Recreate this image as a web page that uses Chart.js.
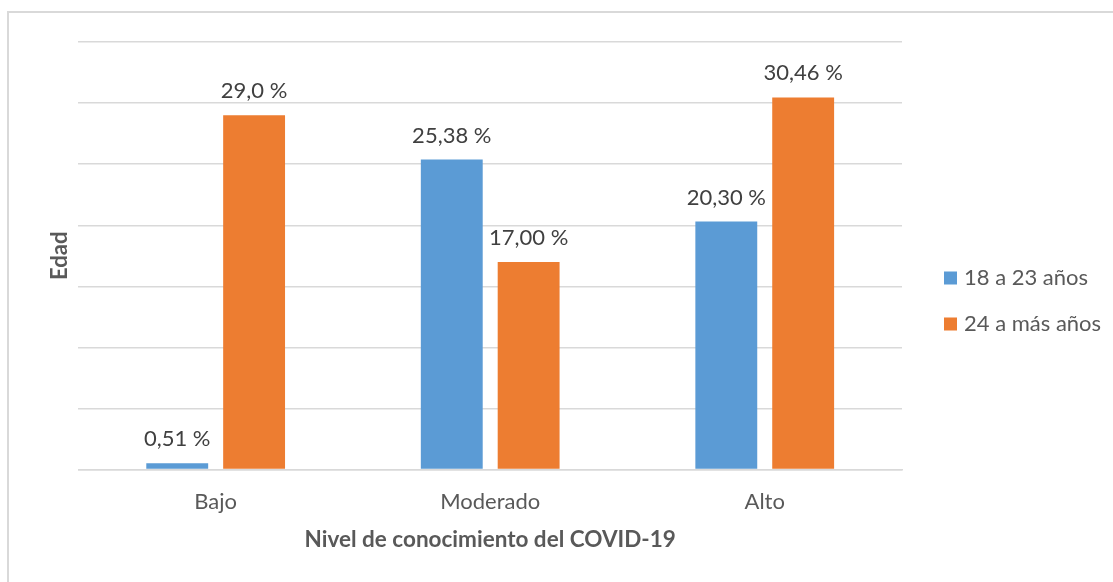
<!DOCTYPE html>
<html>
<head>
<meta charset="utf-8">
<title>Nivel de conocimiento del COVID-19</title>
<script src="https://cdn.jsdelivr.net/npm/chart.js@4"></script>
<style>
  html, body { margin: 0; padding: 0; overflow: hidden; background: #fff; }
  #frame { position: absolute; left: 7px; top: 11px; width: 1300px; height: 800px;
           border: 2px solid #d9d9d9; }
  #wrap { position: absolute; left: 0; top: 0; width: 1113px; height: 582px; }
</style>
</head>
<body>
<div id="frame"></div>
<div id="wrap"><canvas id="bar-chart" width="1113" height="582"></canvas></div>
<script>
// data
var categories = ['Bajo', 'Moderado', 'Alto'];
var seriesNames = ['18 a 23 años', '24 a más años'];
var joven = [0.51, 25.38, 20.30];
var mayor = [29.0, 17.00, 30.46];
var jovenText = ['0,51 %', '25,38 %', '20,30 %'];
var mayorText = ['29,0 %', '17,00 %', '30,46 %'];
var yTicks = [0, 5, 10, 15, 20, 25, 30, 35];

var gris = '#595959';
Chart.defaults.font.family = 'Lato';
Chart.defaults.font.size = 22;
Chart.defaults.color = gris;

// labels above the bars
var valueLabels = {
  id: 'valueLabels',
  afterDatasetsDraw: function (chart) {
    var ctx = chart.ctx;
    ctx.save();
    ctx.font = '22px Lato';
    ctx.fillStyle = '#404040';
    ctx.textAlign = 'center';
    ctx.textBaseline = 'alphabetic';
    chart.data.datasets.forEach(function (ds, i) {
      chart.getDatasetMeta(i).data.forEach(function (bar, j) {
        ctx.fillText(ds.valueText[j], bar.x, bar.y - 17);
      });
    });
    ctx.restore();
  }
};

// legend on the right, excel style
var sideLegend = {
  id: 'sideLegend',
  afterDraw: function (chart) {
    var ctx = chart.ctx;
    var x = chart.chartArea.right + 42;
    var y = 278;
    ctx.save();
    ctx.font = '22px Lato';
    ctx.textBaseline = 'middle';
    ctx.textAlign = 'left';
    chart.data.datasets.forEach(function (ds, i) {
      var cy = y + i * 46;
      ctx.fillStyle = ds.backgroundColor;
      ctx.fillRect(x, cy - 6.5, 13, 13);
      ctx.fillStyle = gris;
      ctx.fillText(ds.label, x + 20, cy);
    });
    ctx.restore();
  }
};

new Chart(document.getElementById('bar-chart'), {
  type: 'bar',
  data: {
    labels: categories,
    datasets: [{
      label: seriesNames[0],
      data: joven,
      valueText: jovenText,
      backgroundColor: '#5b9bd5',
      barPercentage: 0.805,
      categoryPercentage: 0.56
    }, {
      label: seriesNames[1],
      data: mayor,
      valueText: mayorText,
      backgroundColor: '#ed7d31',
      barPercentage: 0.805,
      categoryPercentage: 0.56
    }]
  },
  options: {
    responsive: false,
    animation: false,
    layout: { padding: { left: 47, top: 42, right: 211, bottom: 25 } },
    plugins: {
      tooltip: { enabled: false },
      legend: { display: false }
    },
    scales: {
      x: {
        grid: { display: false, drawTicks: false },
        border: { color: '#d9d9d9', width: 1.5 },
        ticks: { padding: 19, color: gris },
        title: {
          display: true,
          text: 'Nivel de conocimiento del COVID-19',
          font: { weight: 'bold', size: 22.5 },
          color: gris,
          padding: { top: -8, bottom: 4 }
        }
      },
      y: {
        min: 0,
        max: yTicks[yTicks.length - 1],
        afterBuildTicks: function (axis) {
          axis.ticks = yTicks.map(function (v) { return { value: v }; });
        },
        ticks: { display: false },
        grid: { color: '#d9d9d9', lineWidth: 1.5, drawTicks: false },
        border: { display: false },
        title: {
          display: true,
          text: 'Edad',
          font: { weight: 'bold', size: 22 },
          color: gris,
          padding: { top: 0, bottom: 5 }
        }
      }
    }
  },
  plugins: [valueLabels, sideLegend]
});
</script>
</body>
</html>
